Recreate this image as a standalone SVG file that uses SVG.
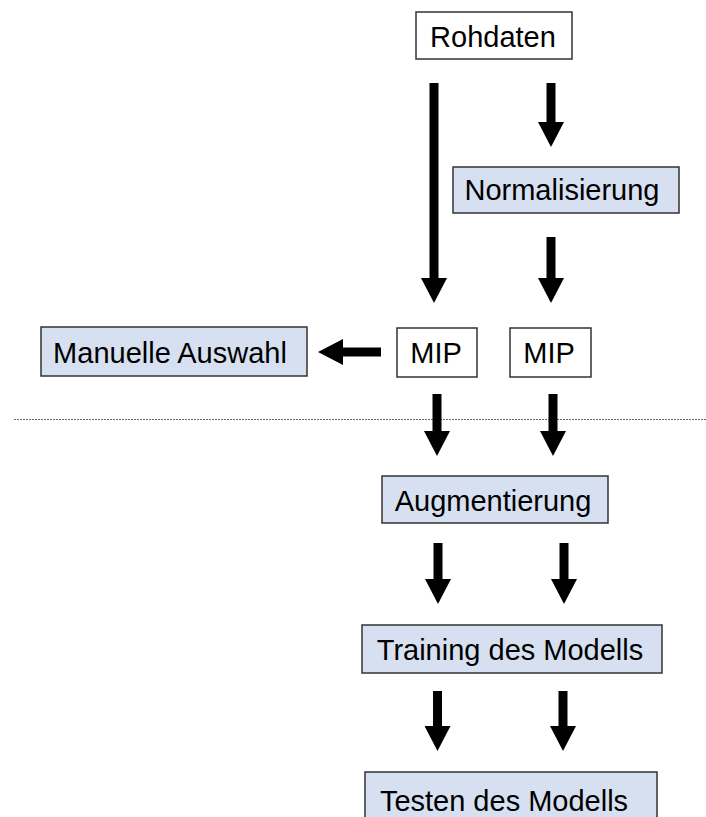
<svg xmlns="http://www.w3.org/2000/svg" width="706" height="817" viewBox="0 0 706 817">
  <defs>
    <marker id="head" markerUnits="userSpaceOnUse" markerWidth="26" markerHeight="26" viewBox="0 0 25 26" refX="1" refY="13" orient="auto">
      <path d="M0,0 L25,13 L0,26 Z" fill="#000"/>
    </marker>
    <style>
      .box { stroke: #333; stroke-width: 1.5; }
      .white { fill: #ffffff; }
      .blue { fill: #d7e0f0; }
      .lbl { font-family: "Liberation Sans", Arial, Helvetica, sans-serif; font-size: 29px; fill: #000; text-anchor: middle; }
      .arr { stroke: #000; stroke-width: 9; fill: none; marker-end: url(#head); }
      .sep { stroke: #6a6a6a; stroke-width: 1; stroke-dasharray: 2 1; }
    </style>
  </defs>
  <rect width="706" height="817" fill="#ffffff"/>

  <g id="nodes">
    <g id="rohdaten">
      <rect class="box white" x="416" y="12" width="156" height="47"/>
      <text class="lbl" x="493" y="47">Rohdaten</text>
    </g>
    <g id="normalisierung">
      <rect class="box blue" x="453" y="167" width="226" height="46"/>
      <text class="lbl" x="562" y="200">Normalisierung</text>
    </g>
    <g id="manuelle-auswahl">
      <rect class="box blue" x="41" y="327" width="266" height="49"/>
      <text class="lbl" x="170" y="363">Manuelle Auswahl</text>
    </g>
    <g id="mip1">
      <rect class="box white" x="397" y="328" width="80" height="49"/>
      <text class="lbl" x="436" y="363">MIP</text>
    </g>
    <g id="mip2">
      <rect class="box white" x="510" y="328" width="81" height="49"/>
      <text class="lbl" x="549" y="363">MIP</text>
    </g>
    <g id="augmentierung">
      <rect class="box blue" x="382" y="476" width="226" height="47"/>
      <text class="lbl" x="493" y="511">Augmentierung</text>
    </g>
    <g id="training">
      <rect class="box blue" x="362" y="625" width="300" height="48"/>
      <text class="lbl" x="510" y="660">Training des Modells</text>
    </g>
    <g id="testen">
      <rect class="box blue" x="365" y="772" width="292" height="52"/>
      <text class="lbl" x="504" y="811">Testen des Modells</text>
    </g>
  </g>

  <line class="sep" x1="14" y1="419.5" x2="706" y2="419.5"/>

  <g id="connectors">
    <line class="arr" x1="434" y1="83" x2="434" y2="279"/>
    <line class="arr" x1="551" y1="83" x2="551" y2="123"/>
    <line class="arr" x1="551" y1="237" x2="551" y2="279"/>
    <line class="arr" x1="381" y1="352" x2="342" y2="352"/>
    <line class="arr" x1="437" y1="394" x2="437" y2="432"/>
    <line class="arr" x1="553" y1="394" x2="553" y2="432"/>
    <line class="arr" x1="438" y1="543" x2="438" y2="580"/>
    <line class="arr" x1="564" y1="543" x2="564" y2="580"/>
    <line class="arr" x1="437.5" y1="691" x2="437.5" y2="727"/>
    <line class="arr" x1="563" y1="691" x2="563" y2="727"/>
  </g>
</svg>
